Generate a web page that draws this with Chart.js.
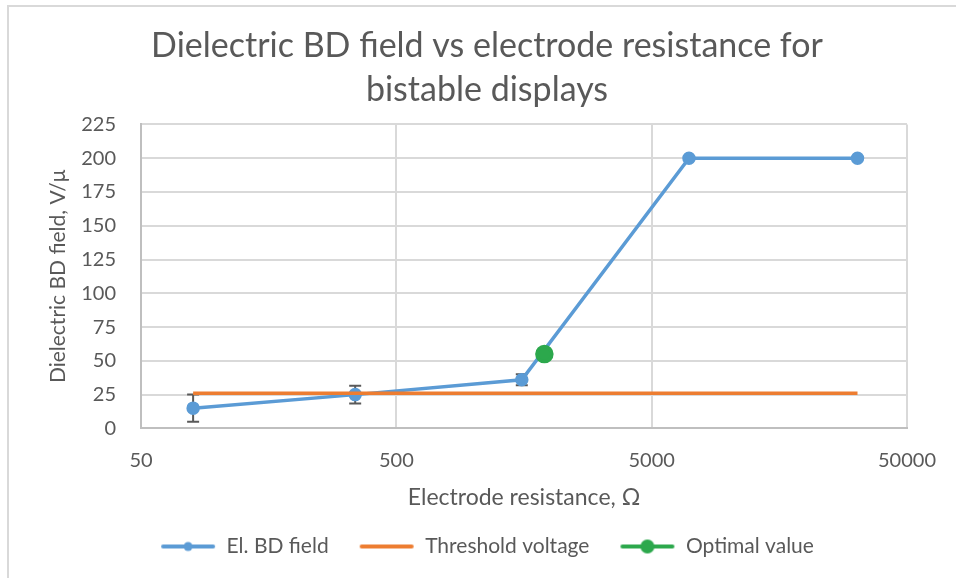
<!DOCTYPE html>
<html>
<head>
<meta charset="utf-8">
<script src="https://cdn.jsdelivr.net/npm/chart.js@4"></script>
<style>
  html, body { margin: 0; padding: 0; background: #fff; }
  #wrap {
    position: absolute; left: 7px; top: 5px; width: 949px; height: 573px;
    border-left: 2px solid #d9d9d9; border-top: 2px solid #d9d9d9;
    box-sizing: border-box;
  }
  #chart { display: block; }
</style>
</head>
<body>
<div id="wrap"><canvas id="chart" width="947" height="571"></canvas></div>
<script>
// resistance in ohm, field in V/μ
const resistance = [80, 345, 1550, 7000, 32000];
const bdField = [15, 25, 36, 200, 200];
const bdError = [10, 6.5, 4, null, null];
const thresholdX = [80, 32000];
const thresholdY = [26, 26];
const optimalX = [1900];
const optimalY = [55];
const xTicks = [50, 500, 5000, 50000];

const grey = '#595959';
const font = 'Lato';

function legendIcon(color, radius) {
    const c = document.createElement('canvas');
    c.width = 56; c.height = 16;
    const g = c.getContext('2d');
    g.strokeStyle = color;
    g.lineWidth = 4;
    g.lineCap = 'round';
    g.beginPath(); g.moveTo(3, 8); g.lineTo(53, 8); g.stroke();
    if (radius) {
        g.fillStyle = color;
        g.beginPath(); g.arc(28, 8, radius, 0, Math.PI * 2); g.fill();
    }
    return c;
}
const icons = [legendIcon('#5b9bd5', 4.5), legendIcon('#ed7d31', 0), legendIcon('#2ca84c', 7)];

// error bars for the first series
const errorBars = {
    id: 'errorBars',
    beforeDatasetsDraw(chart) {
        const ctx = chart.ctx;
        const xs = chart.scales.x, ys = chart.scales.y;
        ctx.save();
        ctx.strokeStyle = grey;
        ctx.lineWidth = 2;
        resistance.forEach((r, i) => {
            if (bdError[i] == null) return;
            const px = xs.getPixelForValue(r);
            const top = ys.getPixelForValue(bdField[i] + bdError[i]);
            const bot = ys.getPixelForValue(bdField[i] - bdError[i]);
            ctx.beginPath();
            ctx.moveTo(px, top); ctx.lineTo(px, bot);
            ctx.moveTo(px - 6, top); ctx.lineTo(px + 6, top);
            ctx.moveTo(px - 6, bot); ctx.lineTo(px + 6, bot);
            ctx.stroke();
        });
        ctx.restore();
    }
};

new Chart(document.getElementById('chart'), {
    type: 'line',
    data: {
        datasets: [
            {
                label: 'El. BD field',
                data: resistance.map((x, i) => ({ x: x, y: bdField[i] })),
                borderColor: '#5b9bd5',
                backgroundColor: '#5b9bd5',
                borderWidth: 3.5,
                pointRadius: 5,
                pointHoverRadius: 5,
                order: 2
            },
            {
                label: 'Threshold voltage',
                data: thresholdX.map((x, i) => ({ x: x, y: thresholdY[i] })),
                borderColor: '#ed7d31',
                backgroundColor: '#ed7d31',
                borderWidth: 3.5,
                pointRadius: 0,
                order: 1
            },
            {
                label: 'Optimal value',
                data: optimalX.map((x, i) => ({ x: x, y: optimalY[i] })),
                borderColor: '#2ca84c',
                backgroundColor: '#2ca84c',
                borderWidth: 3.5,
                pointRadius: 7.5,
                pointHoverRadius: 7.5,
                order: 0
            }
        ]
    },
    options: {
        responsive: false,
        animation: false,
        layout: { padding: { left: 37, right: 28, top: 8, bottom: 11 } },
        plugins: {
            title: {
                display: true,
                text: ['Dielectric BD field vs electrode resistance for', 'bistable displays'],
                color: grey,
                font: { family: font, size: 34, weight: 'normal', lineHeight: 1.3 },
                padding: { top: 9, bottom: 12 }
            },
            legend: {
                position: 'bottom',
                labels: {
                    usePointStyle: true,
                    pointStyleWidth: 56,
                    color: grey,
                    font: { family: font, size: 21 },
                    padding: 30,
                    sort: (a, b) => a.datasetIndex - b.datasetIndex,
                    generateLabels: chart => {
                        const items = Chart.defaults.plugins.legend.labels.generateLabels(chart);
                        items.forEach(it => { it.pointStyle = icons[it.datasetIndex]; });
                        return items;
                    }
                }
            },
            tooltip: { enabled: false }
        },
        scales: {
            x: {
                type: 'logarithmic',
                min: 50,
                max: 50000,
                afterBuildTicks: axis => { axis.ticks = xTicks.map(v => ({ value: v })); },
                ticks: {
                    color: grey,
                    font: { family: font, size: 20 },
                    padding: 20,
                    callback: v => String(v)
                },
                grid: { color: '#d9d9d9', lineWidth: 2, drawTicks: false },
                border: { color: '#bfbfbf', width: 2 },
                title: {
                    display: true,
                    text: 'Electrode resistance, Ω',
                    color: grey,
                    font: { family: font, size: 23 },
                    padding: { top: -9, bottom: -5 }
                }
            },
            y: {
                min: 0,
                max: 225,
                ticks: {
                    stepSize: 25,
                    color: grey,
                    font: { family: font, size: 20 },
                    padding: 25
                },
                grid: { color: '#d9d9d9', lineWidth: 2, drawTicks: false },
                border: { color: '#bfbfbf', width: 2 },
                title: {
                    display: true,
                    text: 'Dielectric BD field, V/μ',
                    color: grey,
                    font: { family: font, size: 21 },
                    padding: { top: 0, bottom: -15 }
                }
            }
        }
    },
    plugins: [errorBars]
});
</script>
</body>
</html>
